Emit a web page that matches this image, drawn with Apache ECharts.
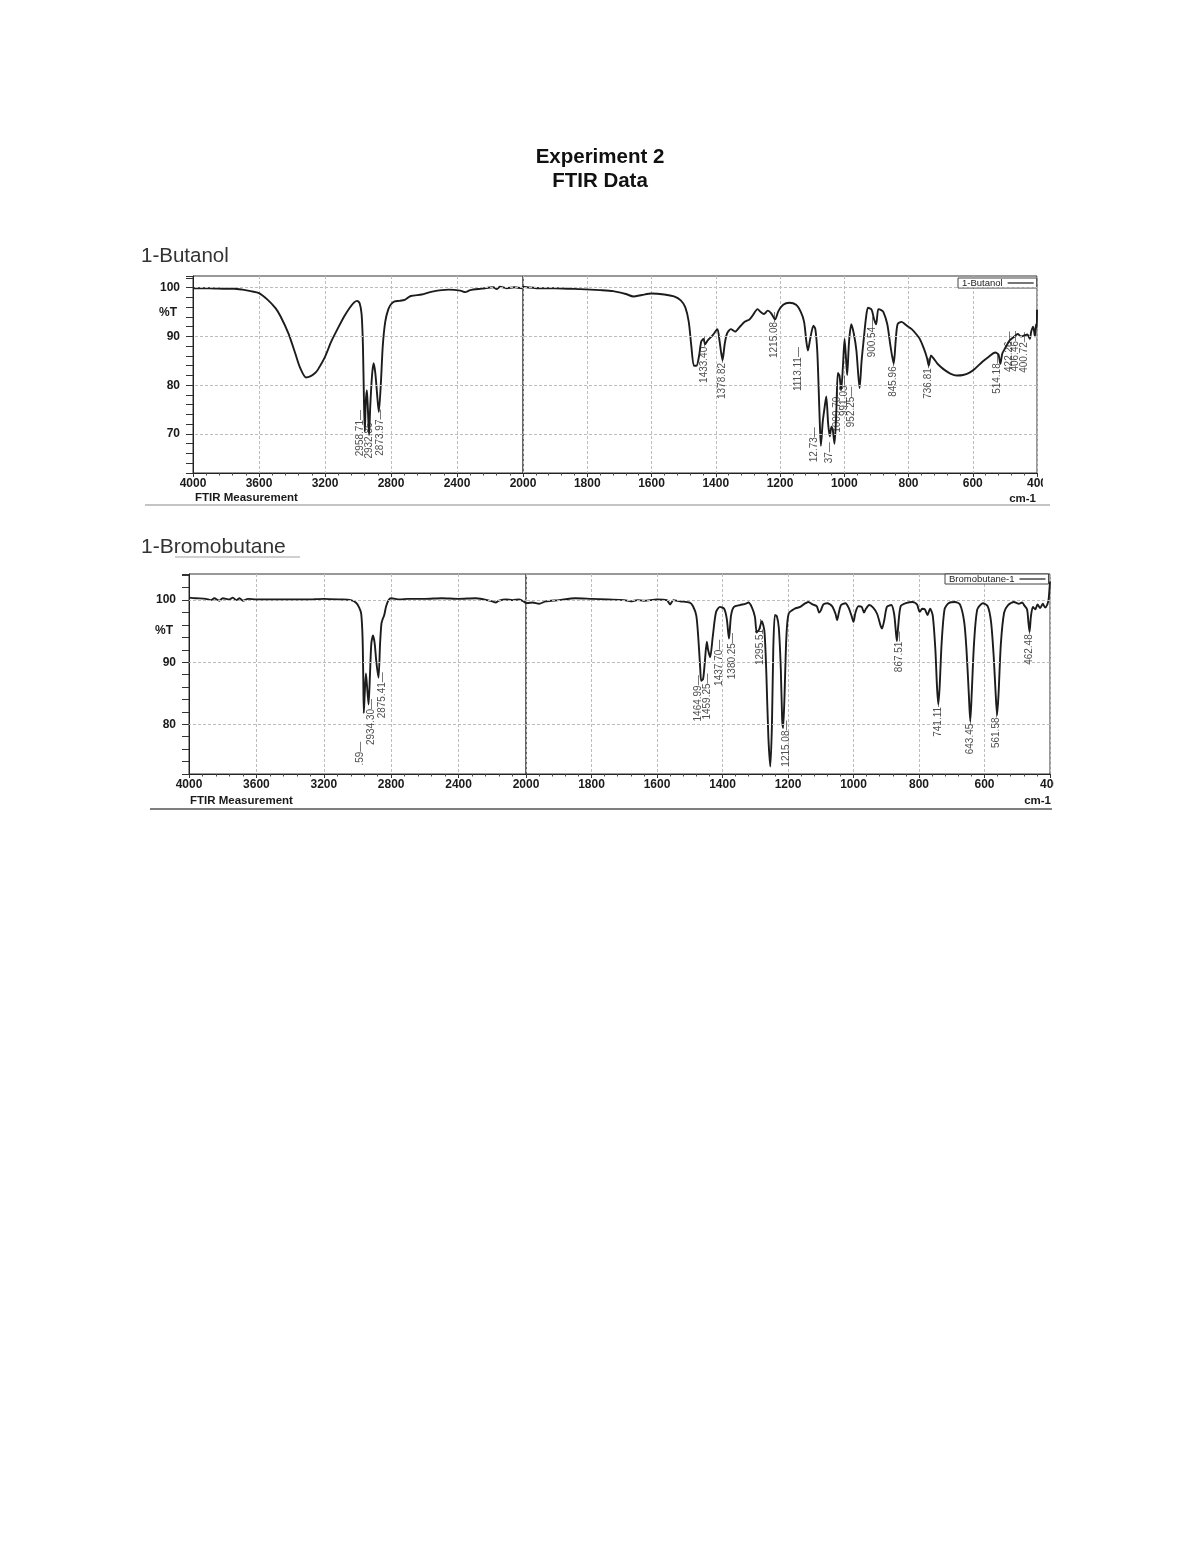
<!DOCTYPE html>
<html><head><meta charset="utf-8">
<script src="https://cdn.jsdelivr.net/npm/echarts@6/dist/echarts.min.js"></script>
<style>html,body{margin:0;padding:0;background:#fff}#c{width:1200px;height:1553px}</style>
</head><body><div id="c"></div>
<script>
// ---------- DATA (wavenumber cm-1, %T) ----------
const butanolSpectrum = [
 [4000,99.9],[3900,99.9],[3800,99.8],[3750,99.8],[3700,99.6],[3650,99.3],[3600,98.9],[3550,97.6],[3500,95.8],[3469,94.1],
 [3420,90.5],[3380,86.5],[3350,83.5],[3316,81.6],[3290,81.8],[3260,82.5],[3243,83.2],[3200,85.8],[3163,88.9],[3120,91.8],
 [3084,94.1],[3050,95.9],[3023,97.0],[3005,97.3],[2990,96.8],[2978,94.5],[2970,88],[2964,77],[2958.71,70.5],[2953,76.5],
 [2946,79],[2940,75],[2932.86,69.8],[2926,75.5],[2915,82],[2905,84.5],[2895,82.5],[2885,78.5],[2873.97,74.5],[2862,80],
 [2850,88],[2835,93],[2817,95.5],[2800,96.6],[2778,97.2],[2750,97.3],[2717,97.5],[2680,98.3],[2614,98.6],[2550,99.2],
 [2450,99.6],[2380,99.4],[2350,99.1],[2320,99.5],[2250,99.8],[2180,100.1],[2160,99.7],[2140,100.2],[2100,99.9],[2050,100.1],
 [2010,99.9],[2000,100.2],
 [1950,99.9],[1900,99.9],[1822,99.7],[1760,99.5],[1719,99.3],[1680,98.7],[1656,98.2],[1630,98.5],[1600,98.8],[1560,98.6],
 [1530,98.2],[1509,97.4],[1495,96],[1484,93],[1476,88],[1468,84],[1460,84],[1452,86],[1445,89],[1438,89.5],
 [1433.4,88.4],[1425,89.2],[1410,90.2],[1395,91.5],[1388,89],[1378.82,85.1],[1372,88.5],[1365,90.6],[1353,91.5],[1340,91.0],
 [1325,92.0],[1310,93.0],[1295,93.5],[1285,94.3],[1270,95.6],[1260,95.0],[1250,94.6],[1238,95.3],[1228,94.8],[1215.08,93.5],
 [1205,95.2],[1190,96.5],[1171,96.9],[1150,96.5],[1135,95.0],[1125,93.0],[1118,89],[1113.11,87.1],[1106,89.5],[1096,92.2],
 [1090,91.5],[1084,87],[1080,80],[1076,72],[1072.73,67.6],[1067,72.5],[1060,76],[1056,77.7],[1050,72],[1045,69.5],
 [1040,71.5],[1036,71],[1030.37,68.0],[1025,74],[1020,82.5],[1015,82],[1009.7,79],[1004,84],[999,89.5],[995,86],
 [991.03,82.1],[985,89],[978,92.5],[970,90.5],[962,87],[952.25,79.4],[946,85],[940,89],[932,94],[926,95.9],
 [915,95.5],[907,93.5],[900.54,92.5],[894,95.6],[885,95.4],[878,95],[866,92.5],[856,88],[845.96,84.4],[840,89],
 [834,92.5],[822,93.0],[805,92.2],[790,91.5],[775,90.4],[765,89.5],[752,87.5],[742,85.5],[736.81,84.0],[730,86.1],
 [722,85.5],[712,84.6],[700,83.8],[687,83.1],[670,82.4],[650,82.0],[630,82.1],[610,82.6],[593,83.4],[570,84.8],
 [551,85.8],[530,86.7],[520,86.3],[514.18,84.4],[508,86.5],[500,87.5],[485,89.2],[470,90.0],[460,90.5],[450,90.0],
 [440,90.2],[430,90.4],[422.26,89.5],[418,91.0],[412,92],[406.46,90.0],[403,92.5],[400.72,91.8],[400,95.5]
];
const butanolPeaks = [
 [2958.71,70.5,'2958.71'],[2932.86,69.8,'2932.86'],[2873.97,74.5,'2873.97'],
 [1433.40,88.4,'1433.40'],[1378.82,85.1,'1378.82'],[1215.08,93.5,'1215.08'],[1113.11,87.1,'1113.11'],
 [1072.73,67.6,'12.73'],[1030.37,68.0,'37'],[1009.70,79.0,'1009.70'],[991.03,82.1,'991.03'],[952.25,79.4,'952.25'],
 [900.54,92.5,'900.54'],[845.96,84.4,'845.96'],[736.81,84.0,'736.81'],[514.18,84.4,'514.18'],
 [422.26,89.5,'422.26'],[406.46,90.0,'406.46'],[400.72,91.8,'400.72']
];
const bromoSpectrum = [
 [4000,100.4],[3960,100.3],[3900,100.2],[3870,100.0],[3850,100.3],[3820,99.9],[3800,100.3],[3760,100.1],[3740,100.4],[3720,100.0],
 [3700,100.3],[3680,99.9],[3650,100.2],[3600,100.1],[3500,100.1],[3400,100.1],[3300,100.1],[3200,100.2],[3100,100.1],[3040,100.0],
 [3010,99.6],[2990,98.8],[2978,97.8],[2970,94],[2966,88],[2962.59,81.8],[2957,85],[2950,88.2],[2943,86],[2934.3,83.2],
 [2926,88],[2918,93],[2908,94.3],[2898,93],[2888,90],[2875.41,87.5],[2866,93],[2858,96.2],[2850,97.0],[2842,97.5],
 [2830,99.0],[2815,100.0],[2800,100.3],[2750,100.1],[2700,100.2],[2600,100.2],[2500,100.3],[2400,100.2],[2300,100.3],[2250,100.1],
 [2200,99.8],[2180,99.6],[2160,99.9],[2120,100.1],[2080,100.0],[2040,100.1],[2010,99.7],[2000,99.5],
 [1980,99.6],[1960,99.4],[1940,99.8],[1900,100.0],[1850,100.3],[1800,100.2],[1750,100.1],[1700,100.0],[1680,99.8],[1660,100.0],
 [1640,99.9],[1600,100.1],[1570,100.0],[1560,99.3],[1550,100.0],[1530,99.8],[1500,99.6],[1490,99.0],[1480,97.5],[1474,94],
 [1468,89],[1464.99,87.0],[1459.25,87.3],[1454,90],[1448,93.3],[1444,92],[1437.7,90.8],[1430,94],[1420,98],[1408,98.9],
 [1395,98.6],[1387,97],[1380.25,93.8],[1374,97.5],[1365,98.9],[1347,99.2],[1330,99.4],[1321,99.6],[1310,98.8],[1301,97.3],
 [1295.51,94.8],[1288,95.3],[1280,96.6],[1272,95],[1266,88],[1260,78],[1254,73.2],[1249,80],[1245,92],[1240,97.6],
 [1234,97.4],[1228,95.5],[1222,89],[1218,81],[1215.08,79.4],[1211,84],[1205,94],[1198,97.8],[1180,98.6],[1163,98.9],
 [1150,99.4],[1138,99.7],[1125,99.3],[1112,99.0],[1105,98.0],[1100,98.3],[1092,99.3],[1080,99.5],[1065,99.0],[1055,97.8],
 [1050,96.8],[1045,97.9],[1038,99.2],[1025,99.5],[1015,98.8],[1005,97.3],[1000,96.5],[994,98.0],[985,99.0],[975,98.9],
 [968,98.0],[962,98.6],[952,99.2],[940,98.8],[928,97.8],[918,96.0],[913,95.4],[906,96.8],[898,98.9],[885,99.2],
 [876,97.8],[870,94.5],[867.51,93.4],[864,95.5],[856,99.0],[840,99.5],[820,99.7],[806,99.3],[798,98.1],[790,98.6],
 [782,98.5],[774,97.6],[766,98.6],[758,97.5],[750,92],[745,86],[741.11,83.2],[737,86],[731,93],[722,98.5],
 [710,99.5],[690,99.7],[675,99.3],[662,96.5],[655,92],[648,85],[643.45,80.5],[639,85],[632,93],[622,98.5],
 [605,99.5],[590,99.0],[580,96.5],[572,91],[566,85],[561.58,81.5],[557,85],[550,93],[540,98],[528,99.2],
 [510,99.7],[495,99.4],[485,99.6],[478,99.1],[470,98.5],[466,96.5],[462.48,94.9],[458,97.5],[452,98.9],[445,98.5],
 [438,99.3],[430,98.7],[422,99.4],[415,98.8],[408,99.3],[404,100.2],[402,101.5],[400,103.0]
];
const bromoPeaks = [
 [2962.59,81.8,'.59'],[2934.30,83.2,'2934.30'],[2875.41,87.5,'2875.41'],
 [1464.99,87.0,'1464.99'],[1459.25,87.3,'1459.25'],[1437.70,90.8,'1437.70'],[1380.25,93.8,'1380.25'],
 [1295.51,94.8,'1295.51'],[1215.08,79.4,'1215.08'],[867.51,93.4,'867.51'],[741.11,83.2,'741.11'],
 [643.45,80.5,'643.45'],[561.58,81.5,'561.58'],[462.48,94.9,'462.48']
];
const gridLevelsT = [70, 80, 90, 100];
const axisLabelT = [70, 80, 90, 100];

// ---------- STYLE (label nudges in px) ----------
const labelNudge = {
 '2958.71':[-4,-14],'2932.86':[1,-15],'2873.97':[2,5],'1113.11':[-9,4],'12.73':[-6,-11],'37':[-5,6],
 '1009.70':[-3,4],'991.03':[-2,8],'952.25':[-8,6],'900.54':[-3,0],'514.18':[-3,-3],
 '422.26':[-20,0],'406.46':[-19,2],'400.72':[-12,12],
 '.59':[-3,36],'2934.30':[3,2],'2875.41':[4,2],'1464.99':[-2,2],'1459.25':[5,2],'1437.70':[10,-10],
 '1380.25':[4,2],'1295.51':[4,-6],'1215.08b':[4,0],'867.51':[3,-2]
};
const LABEL_SHIFT = -7;

const FONT = 'Liberation Sans, Arial, sans-serif';
const chart = echarts.init(document.getElementById('c'), null, {renderer:'canvas'});

const gridDefs = [
 {left:193, top:276, width:330, height:197},
 {left:523, top:276, width:514, height:197},
 {left:189, top:574, width:337, height:200},
 {left:526, top:574, width:524, height:200}
];
const yRange = [[62,102.4],[62,102.4],[72,104.2],[72,104.2]];

function xAx(i, lo, hi, step, hideMin){
  return {
    gridIndex:i, type:'value', min:lo, max:hi, inverse:true, interval:step,
    axisLine:{show:true, lineStyle:{color:'#222', width:1}},
    axisTick:{show:true, length:4, lineStyle:{color:'#333'}},
    minorTick:{show:true, splitNumber:5, length:2.5, lineStyle:{color:'#444'}},
    axisLabel:{show:true, margin:5, fontFamily:FONT, fontSize:12, fontWeight:'bold', color:'#1a1a1a',
      showMinLabel:!hideMin, formatter:v=>String(Math.round(v))},
    splitLine:{show:true, lineStyle:{color:'#bdbdbd', type:[3,2], width:1}}
  };
}
function yAx(i, visible){
  return {
    gridIndex:i, type:'value', min:yRange[i][0], max:yRange[i][1], interval:2, show:visible,
    axisLine:{show:true, lineStyle:{color:'#222', width:1}},
    axisTick:{show:true, length:7, lineStyle:{color:'#333'}},
    axisLabel:{show:true, margin:13, fontFamily:FONT, fontSize:12, fontWeight:'bold', color:'#1a1a1a',
      formatter:v=>{const r=Math.round(v); return (Math.abs(v-r)<1e-6 && axisLabelT.includes(r)) ? String(r) : '';}},
    splitLine:{show:false}
  };
}

function lineSeries(name, data, i){
  return {
    name, type:'line', xAxisIndex:i, yAxisIndex:i, data, showSymbol:false, smooth:0.25,
    lineStyle:{color:'#1c1c1c', width:1.9}, itemStyle:{color:'#1c1c1c'}, animation:false, z:3,
    markLine:{silent:true, symbol:'none', animation:false, label:{show:false},
      lineStyle:{color:'#bdbdbd', type:[3,2], width:1}, data:gridLevelsT.map(v=>({yAxis:v}))}
  };
}
function peakSeries(peaks, i, suffix){
  return {
    type:'scatter', xAxisIndex:i, yAxisIndex:i, symbolSize:1, itemStyle:{color:'rgba(0,0,0,0)'},
    animation:false, silent:true, z:5,
    data:peaks.map(p=>{
      const n = labelNudge[p[2]+suffix] || labelNudge[p[2]] || [0,0];
      return {value:[p[0],p[1]], name:p[2],
        label:{show:true, position:[n[0], n[1]+LABEL_SHIFT], rotate:90, align:'right', verticalAlign:'middle',
          formatter:p[2]+'\u2014', fontFamily:FONT, fontSize:10, color:'#222'}};
    })
  };
}

const bL = butanolSpectrum.filter(p=>p[0]>=2000), bR = butanolSpectrum.filter(p=>p[0]<=2000);
const rL = bromoSpectrum.filter(p=>p[0]>=2000), rR = bromoSpectrum.filter(p=>p[0]<=2000);
const bPL = butanolPeaks.filter(p=>p[0]>2000), bPR = butanolPeaks.filter(p=>p[0]<=2000);
const rPL = bromoPeaks.filter(p=>p[0]>2000), rPR = bromoPeaks.filter(p=>p[0]<=2000);

const option = {
  backgroundColor:'#fff',
  animation:false,
  title:[
    {text:'Experiment 2', left:'center', top:142, textStyle:{fontFamily:FONT, fontSize:20.5, fontWeight:'bold', color:'#111'}},
    {text:'FTIR Data', left:'center', top:166, textStyle:{fontFamily:FONT, fontSize:20.5, fontWeight:'bold', color:'#111'}},
    {text:'1-Butanol', left:136, top:241, textStyle:{fontFamily:FONT, fontSize:20.5, fontWeight:'normal', color:'#333'}},
    {text:'1-Bromobutane', left:136, top:532, textStyle:{fontFamily:FONT, fontSize:21, fontWeight:'normal', color:'#333'}}
  ],
  legend:[
    {data:['1-Butanol'], left:958, top:278, align:'right', icon:'rect', itemWidth:26, itemHeight:1.2, itemGap:4,
     padding:[0,3,0,4], borderColor:'#444', borderWidth:1, backgroundColor:'#fff',
     textStyle:{fontFamily:FONT, fontSize:9.5, color:'#222'}},
    {data:['Bromobutane-1'], left:945, top:574, align:'right', icon:'rect', itemWidth:26, itemHeight:1.2, itemGap:4,
     padding:[0,3,0,4], borderColor:'#444', borderWidth:1, backgroundColor:'#fff',
     textStyle:{fontFamily:FONT, fontSize:9.5, color:'#222'}}
  ],
  grid:gridDefs.map(g=>Object.assign({show:true, borderColor:'#333', borderWidth:1, containLabel:false}, g)),
  xAxis:[xAx(0,2000,4000,400,true), xAx(1,400,2000,200,false), xAx(2,2000,4000,400,true), xAx(3,400,2000,200,false)],
  yAxis:[yAx(0,true), yAx(1,false), yAx(2,true), yAx(3,false)],
  series:[
    lineSeries('1-Butanol', bL, 0), lineSeries('1-Butanol', bR, 1),
    lineSeries('Bromobutane-1', rL, 2), lineSeries('Bromobutane-1', rR, 3),
    peakSeries(bPL, 0, ''), peakSeries(bPR, 1, ''),
    peakSeries(rPL, 2, 'b'), peakSeries(rPR, 3, 'b')
  ],
  graphic:[
    {type:'rect', shape:{x:1043, y:474, width:150, height:20}, style:{fill:'#fff'}, z:100},
    {type:'rect', shape:{x:1054, y:776, width:140, height:20}, style:{fill:'#fff'}, z:100},
    {type:'text', left:159, top:307, style:{text:'%T', font:'bold 12px '+FONT, fill:'#1a1a1a'}, z:100},
    {type:'text', left:155, top:625, style:{text:'%T', font:'bold 12px '+FONT, fill:'#1a1a1a'}, z:100},
    {type:'text', left:195, top:492, style:{text:'FTIR Measurement', font:'bold 11.5px '+FONT, fill:'#1a1a1a'}, z:100},
    {type:'text', left:190, top:795, style:{text:'FTIR Measurement', font:'bold 11.5px '+FONT, fill:'#1a1a1a'}, z:100},
    {type:'text', right:1200-1036, top:493, style:{text:'cm-1', font:'bold 11.5px '+FONT, fill:'#1a1a1a'}, z:100},
    {type:'text', right:1200-1051, top:795, style:{text:'cm-1', font:'bold 11.5px '+FONT, fill:'#1a1a1a'}, z:100},
    {type:'line', shape:{x1:145, y1:505, x2:1050, y2:505}, style:{stroke:'#b0b0b0', lineWidth:1.5}, z:1},
    {type:'line', shape:{x1:150, y1:809, x2:1052, y2:809}, style:{stroke:'#555', lineWidth:1.5}, z:1},
    {type:'line', shape:{x1:175, y1:557, x2:300, y2:557}, style:{stroke:'#d0d0d0', lineWidth:2}, z:1}
  ]
};
chart.setOption(option);
</script></body></html>
